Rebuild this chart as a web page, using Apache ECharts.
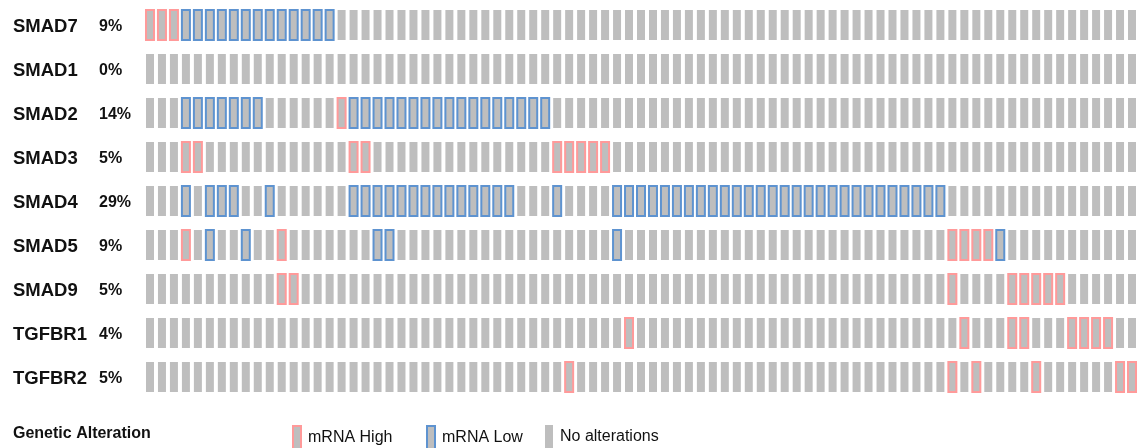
<!DOCTYPE html>
<html>
<head>
<meta charset="utf-8">
<script src="https://cdn.jsdelivr.net/npm/echarts@6/dist/echarts.min.js"></script>
<style>
  html, body { margin: 0; padding: 0; background: #ffffff; }
  #chart { width: 1138px; height: 448px; }
</style>
</head>
<body>
<div id="chart"></div>
<script>
// ---- data ----
const genes = ['SMAD7', 'SMAD1', 'SMAD2', 'SMAD3', 'SMAD4', 'SMAD5', 'SMAD9', 'TGFBR1', 'TGFBR2'];
const pctLabels = ['9%', '0%', '14%', '5%', '29%', '9%', '5%', '4%', '5%'];
const caseCount = 83;
// case (column) indices with mRNA High, per gene
const mrnaHigh = [
  [0, 1, 2],
  [],
  [16],
  [3, 4, 17, 18, 34, 35, 36, 37, 38],
  [],
  [3, 11, 67, 68, 69, 70],
  [11, 12, 67, 72, 73, 74, 75, 76],
  [40, 68, 72, 73, 77, 78, 79, 80],
  [35, 67, 69, 74, 81, 82]
];
// case (column) indices with mRNA Low, per gene
const mrnaLow = [
  [3, 4, 5, 6, 7, 8, 9, 10, 11, 12, 13, 14, 15],
  [],
  [3, 4, 5, 6, 7, 8, 9, 17, 18, 19, 20, 21, 22, 23, 24, 25, 26, 27, 28, 29, 30, 31, 32, 33],
  [],
  [3, 5, 6, 7, 10, 17, 18, 19, 20, 21, 22, 23, 24, 25, 26, 27, 28, 29, 30, 34,
   39, 40, 41, 42, 43, 44, 45, 46, 47, 48, 49, 50, 51, 52, 53, 54, 55, 56, 57, 58,
   59, 60, 61, 62, 63, 64, 65, 66],
  [5, 8, 19, 20, 39, 71],
  [],
  [],
  []
];
const legendNames = ['mRNA High', 'mRNA Low', 'No alterations'];

// ---- build series data ----
const highData = [], lowData = [], noneData = [];
genes.forEach((g, gi) => {
  for (let c = 0; c < caseCount; c++) {
    if (mrnaHigh[gi].includes(c)) highData.push([c, gi]);
    else if (mrnaLow[gi].includes(c)) lowData.push([c, gi]);
    else noneData.push([c, gi]);
  }
});

const GRAY = '#bebebe';
const RED = '#ff9a9a';
const BLUE = '#5e93d0';
const FONT = '"Liberation Sans", Arial, Helvetica, sans-serif';

function makeRender(stroke) {
  return function (params, api) {
    const p = api.coord([api.value(0), api.value(1)]);
    const shape = { x: p[0] - 4, y: p[1] - 15, width: 8, height: 30 };
    const style = { fill: GRAY };
    if (stroke) { style.stroke = stroke; style.lineWidth = 2; }
    return { type: 'rect', shape: shape, style: style };
  };
}

function legendAt(name, left, border) {
  return {
    left: left, top: 425, padding: 0,
    itemWidth: 8, itemHeight: 24,
    icon: 'rect', selectedMode: false,
    textStyle: { fontFamily: FONT, fontSize: 16, color: '#111', padding: [0, 0, 0, 2] },
    data: [{ name: name, itemStyle: border ? { color: GRAY, borderColor: border, borderWidth: 2 } : { color: GRAY, borderWidth: 0 } }]
  };
}

const chart = echarts.init(document.getElementById('chart'), null, { renderer: 'canvas' });
chart.setOption({
  animation: false,
  backgroundColor: '#ffffff',
  title: {
    text: 'Genetic Alteration',
    left: 13, top: 426, padding: 0,
    textStyle: { fontFamily: FONT, fontSize: 16, fontWeight: 'bold', color: '#111' }
  },
  legend: [
    legendAt(legendNames[0], 292, RED),
    legendAt(legendNames[1], 426, BLUE),
    legendAt(legendNames[2], 545, null)
  ],
  grid: { left: 144, top: 3, width: 996, height: 396, containLabel: false },
  xAxis: {
    type: 'value', min: -0.5, max: caseCount - 0.5,
    show: false
  },
  yAxis: {
    type: 'category', data: genes, inverse: true,
    axisLine: { show: false }, axisTick: { show: false }, splitLine: { show: false },
    axisLabel: {
      align: 'left', margin: 131, padding: [4, 0, 0, 0],
      formatter: function (v, i) { return '{g|' + v + '}{p|' + pctLabels[i] + '}'; },
      rich: {
        g: { fontFamily: FONT, fontSize: 18.5, fontWeight: 'bold', color: '#111', width: 86 },
        p: { fontFamily: FONT, fontSize: 16, fontWeight: 'bold', color: '#111' }
      }
    }
  },
  series: [
    { name: legendNames[2], type: 'custom', renderItem: makeRender(null), data: noneData,
      itemStyle: { color: GRAY }, encode: { x: 0, y: 1 } },
    { name: legendNames[0], type: 'custom', renderItem: makeRender(RED), data: highData,
      itemStyle: { color: GRAY, borderColor: RED }, encode: { x: 0, y: 1 } },
    { name: legendNames[1], type: 'custom', renderItem: makeRender(BLUE), data: lowData,
      itemStyle: { color: GRAY, borderColor: BLUE }, encode: { x: 0, y: 1 } }
  ]
});
</script>
</body>
</html>
